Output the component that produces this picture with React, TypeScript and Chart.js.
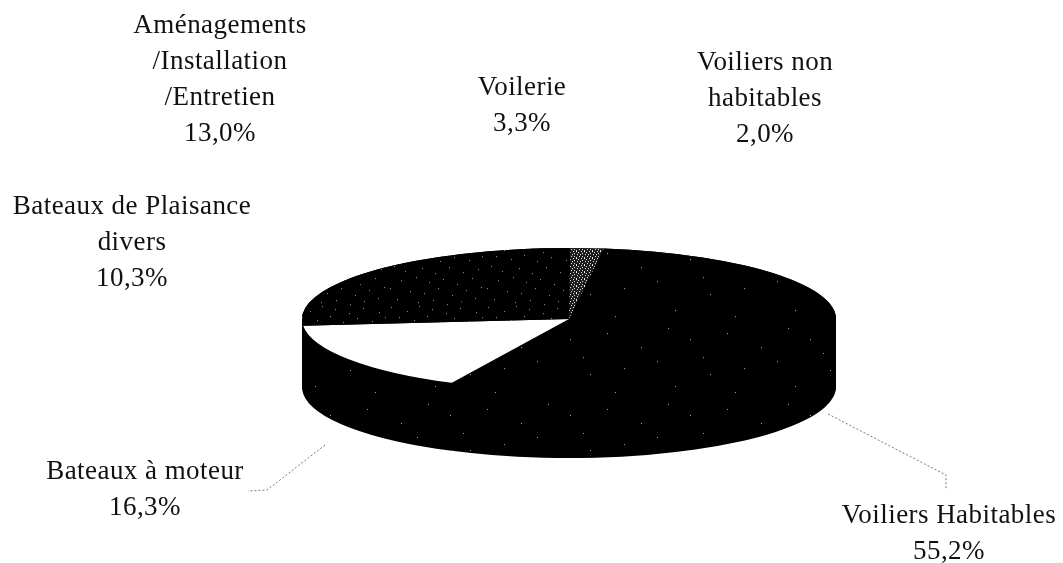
import React, { useEffect, useRef } from "react";
import { Chart, registerables } from "chart.js";

Chart.register(...registerables);

const categories = [
  "Voiliers Habitables",
  "Bateaux à moteur",
  "Bateaux de Plaisance divers",
  "Aménagements /Installation /Entretien",
  "Voilerie",
  "Voiliers non habitables",
];
const shares = [55.2, 16.3, 10.3, 13.0, 3.3, 2.0];
const labelLines = [
  ["Voiliers Habitables"],
  ["Bateaux à moteur"],
  ["Bateaux de Plaisance", "divers"],
  ["Aménagements", "/Installation", "/Entretien"],
  ["Voilerie"],
  ["Voiliers non", "habitables"],
];

const W = 1063;
const H = 563;
const CENTER_Y = 319;
const TILT = 0.266;
const DEPTH = 68;
const START_ANGLE = 7.5;
const FONT = '27px "Liberation Serif"';
const LINE_GAP = 36;
const labelAnchors = [
  { x: 949, y: 516 },
  { x: 145, y: 472 },
  { x: 132, y: 207 },
  { x: 220, y: 26 },
  { x: 522, y: 88 },
  { x: 765, y: 63 },
];
const leaders = [
  [[828, 414], [946, 475], [946, 490]],
  [[325, 445], [280, 480], [267, 490], [248, 491]],
];

// Fixed speck positions used for the scan-like halftone texture.
const speckA = [
  [3, 2], [19, 6], [31, 1], [44, 4], [58, 8], [72, 3], [88, 7], [11, 12], [26, 15], [39, 11], [52, 17], [66, 13],
  [81, 16], [94, 12], [6, 22], [17, 27], [34, 24], [47, 29], [61, 23], [75, 28], [90, 25], [13, 36], [28, 33],
  [41, 38], [55, 35], [69, 40], [84, 34], [2, 44], [22, 47], [36, 49], [50, 44], [64, 51], [78, 46], [93, 43],
  [9, 55], [30, 58], [45, 56], [59, 60], [73, 57], [87, 54],
];
const speckB = [[7, 9], [41, 23], [68, 4], [24, 44], [57, 37], [90, 15], [110, 50], [75, 66], [15, 72], [103, 33]];
const speckC = [[0, 0], [2, 1], [5, 0], [1, 3], [4, 3], [6, 2], [3, 5], [0, 6], [6, 5]];

function tile(w: number, h: number, base: string, dot: string, pts: number[][], scaleY: number) {
  const c = document.createElement("canvas");
  c.width = w;
  c.height = h;
  const x = c.getContext("2d")!;
  if (base !== "none") {
    x.fillStyle = base;
    x.fillRect(0, 0, w, h);
  }
  x.fillStyle = dot;
  pts.forEach(([a, b]) => x.fillRect(a, b, 1, 1));
  const p = x.createPattern(c, "repeat")!;
  p.setTransform(new DOMMatrix().scale(1, 1 / scaleY));
  return p;
}

export default function App() {
  const ref = useRef<HTMLCanvasElement>(null);
  useEffect(() => {
    document.body.style.margin = "0";
    document.body.style.background = "#fff";
    const dark = tile(97, 61, "#000", "#9a9a9a", speckA, TILT);
    const black = tile(120, 80, "#000", "#b0b0b0", speckB, TILT);
    const grey = tile(8, 7, "#1a1a1a", "#f2f2f2", speckC, TILT);
    const sideSpeck = tile(120, 80, "none", "#a0a0a0", speckB, 1);

    const pie3d = {
      id: "pie3d",
      beforeDatasetsDraw(chart: any) {
        const ctx = chart.ctx;
        const meta = chart.getDatasetMeta(0);
        const cx = meta.data[0].x;
        const cy = meta.data[0].y;
        for (let d = DEPTH; d >= 0; d--) {
          ctx.save();
          ctx.translate(cx, CENTER_Y + d);
          ctx.scale(1, TILT);
          ctx.translate(-cx, -cy);
          meta.data.forEach((el: any) => {
            const saved = el.options;
            el.options = Object.create(saved, { backgroundColor: { value: "#000" } });
            el.draw(ctx);
            el.options = saved;
          });
          ctx.restore();
        }
        ctx.save();
        ctx.globalCompositeOperation = "source-atop";
        ctx.fillStyle = sideSpeck;
        ctx.fillRect(0, 0, W, H);
        ctx.restore();
      },
      beforeDatasetDraw(chart: any) {
        const ctx = chart.ctx;
        const el = chart.getDatasetMeta(0).data[0];
        ctx.save();
        ctx.translate(el.x, CENTER_Y);
        ctx.scale(1, TILT);
        ctx.translate(-el.x, -el.y);
      },
      afterDatasetDraw(chart: any) {
        chart.ctx.restore();
      },
      afterDatasetsDraw(chart: any) {
        const ctx = chart.ctx;
        ctx.save();
        ctx.strokeStyle = "#777";
        ctx.lineWidth = 1;
        ctx.setLineDash([2, 2]);
        leaders.forEach((pts) => {
          ctx.beginPath();
          pts.forEach(([x, y], i) => (i ? ctx.lineTo(x, y) : ctx.moveTo(x, y)));
          ctx.stroke();
        });
        ctx.setLineDash([]);
        ctx.fillStyle = "#111";
        ctx.font = FONT;
        (ctx as any).letterSpacing = "0.45px";
        ctx.textAlign = "center";
        ctx.textBaseline = "middle";
        labelLines.forEach((lines, i) => {
          const a = labelAnchors[i];
          const all = [...lines, shares[i].toFixed(1).replace(".", ",") + "%"];
          all.forEach((t, j) => ctx.fillText(t, a.x, a.y + j * LINE_GAP));
        });
        ctx.restore();
      },
    };

    const chart = new Chart(ref.current!, {
      type: "pie",
      data: {
        labels: categories,
        datasets: [
          {
            data: shares,
            backgroundColor: [black, "#ffffff", dark, dark, dark, grey],
            borderWidth: 0,
            clip: false,
          } as any,
        ],
      },
      options: {
        responsive: false,
        animation: false,
        events: [],
        rotation: START_ANGLE,
        layout: { padding: { left: 302, right: 227, top: 14.5, bottom: 14.5 } },
        plugins: { legend: { display: false }, tooltip: { enabled: false }, title: { display: false } },
      },
      plugins: [pie3d],
    } as any);
    return () => chart.destroy();
  }, []);
  return (
    <div style={{ width: W, height: H, background: "#fff" }}>
      <canvas ref={ref} width={W} height={H} style={{ display: "block" }} />
    </div>
  );
}
